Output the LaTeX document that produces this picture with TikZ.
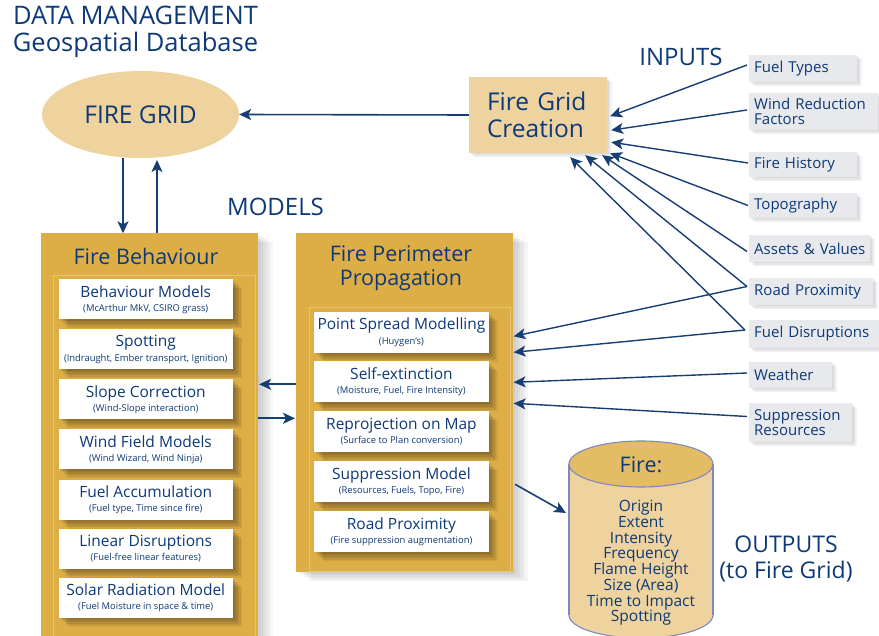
\documentclass[tikz,border=0pt]{standalone}
\usepackage{fontspec}
\setmainfont{Open Sans}
\usetikzlibrary{arrows.meta,calc,shapes.geometric}
\definecolor{navy}{HTML}{0D3977}
\definecolor{arrowc}{HTML}{173D75}
\definecolor{gold}{HTML}{DEAE46}
\definecolor{goldline}{HTML}{EAC46E}
\definecolor{sand}{HTML}{EFD39E}
\definecolor{sandtop}{HTML}{E4BC66}
\definecolor{cylline}{HTML}{7F88BB}
\definecolor{boxgray}{HTML}{E8E9EC}
\newcommand{\fsz}[2]{\fontsize{#1}{#2}\selectfont}
\tikzset{
  arr/.style={draw=arrowc, line width=1.6pt, -{Stealth[length=12pt,width=11pt,inset=3pt]}},
  inarr/.style={draw=arrowc, line width=1.4pt, -{Stealth[length=12pt,width=11pt,inset=3pt]}},
  bigshadow/.style={
    preaction={fill=black,opacity=0.035,transform canvas={shift={(2.5pt,-1.5pt)}}},
    preaction={fill=black,opacity=0.035,transform canvas={shift={(5pt,-3pt)}}},
    preaction={fill=black,opacity=0.035,transform canvas={shift={(7.5pt,-4.5pt)}}},
    preaction={fill=black,opacity=0.035,transform canvas={shift={(10pt,-6pt)}}},
    preaction={fill=black,opacity=0.035,transform canvas={shift={(12.5pt,-7.5pt)}}},
    preaction={fill=black,opacity=0.035,transform canvas={shift={(15pt,-9pt)}}}},
  boxshadow/.style={
    preaction={fill=black,opacity=0.065,transform canvas={shift={(1.5pt,-1.5pt)}}},
    preaction={fill=black,opacity=0.065,transform canvas={shift={(3pt,-3pt)}}},
    preaction={fill=black,opacity=0.065,transform canvas={shift={(4.5pt,-4.5pt)}}},
    preaction={fill=black,opacity=0.065,transform canvas={shift={(6pt,-6pt)}}},
    preaction={fill=black,opacity=0.065,transform canvas={shift={(7.5pt,-7.5pt)}}},
    preaction={fill=black,opacity=0.065,transform canvas={shift={(9pt,-9pt)}}}},
  smallshadow/.style={
    preaction={fill=black,opacity=0.05,transform canvas={shift={(1.5pt,-1.5pt)}}},
    preaction={fill=black,opacity=0.05,transform canvas={shift={(3pt,-3pt)}}},
    preaction={fill=black,opacity=0.05,transform canvas={shift={(4.5pt,-4.5pt)}}}},
  panel/.style={fill=gold, draw=none, anchor=north west, inner sep=0pt, bigshadow},
  ptitle/.style={text=navy, font=\fsz{21.5}{24}, align=center, inner sep=0pt},
  wbox/.style={fill=white, anchor=north west, minimum width=174.5pt, minimum height=40pt,
    inner sep=0pt, align=center, text=navy, font=\fsz{15.5}{14.5}, boxshadow},
  inbox/.style={anchor=west, fill=boxgray, text=navy, font=\fsz{15}{15.5}, align=left,
    inner xsep=5pt, inner ysep=0pt, text width=#1, smallshadow},
  heading/.style={text=navy, inner sep=0pt, align=center},
}
\newcommand{\sm}[1]{{\fsz{9.4}{14.5}#1}}
\begin{document}
\begin{tikzpicture}[x=1pt,y=-1pt]
\useasboundingbox (0,0) rectangle (879,636);
\clip (0,0) rectangle (879,636);

% headings
\node[heading, font=\fsz{25.5}{26.7}] (dm) at (135.5,32) {DATA MANAGEMENT\\Geospatial Database};
\node[heading, font=\fsz{24}{24}] (models) at (275.5,207) {MODELS};
\node[heading, font=\fsz{24}{25}] (inputs) at (681,57) {INPUTS};
\node[heading, font=\fsz{23}{25.5}] (outputs) at (786,559) {OUTPUTS\\(to Fire Grid)};

% fire grid
\node[ellipse, fill=sand, minimum width=197pt, minimum height=87pt, inner sep=0pt,
  text=navy, font=\fsz{24.5}{26}] (grid) at (140.5,114.5) {FIRE GRID};
\node[fill=sand, minimum height=76pt, inner xsep=18pt, inner ysep=0pt, text width=102pt,
  align=left, text=navy, font=\fsz{24.5}{27.3}, smallshadow] (fgc) at (538,115) {\mbox{Fire Grid}\\Creation};

% panels
\node[panel, minimum width=216.7pt, minimum height=420pt] (fb) at (41,233.3) {};
\node[panel, minimum width=216.7pt, minimum height=338.5pt] (fpp) at (296,233.3) {};
\draw[goldline, line width=0.8pt] (53.3,275) rectangle (255.7,660);
\draw[goldline, line width=0.8pt] (309.3,307.7) rectangle (510,571.8);
\node[ptitle] (fbt) at (146,256) {Fire Behaviour};
\node[ptitle] (fppt) at (401,268) {Fire Perimeter\\Propagation};

% fire behaviour boxes
\node[wbox] (fb1) at (58.3,279.3) {Behaviour Models\\\sm{(McArthur MkV, CSIRO grass)}};
\node[wbox] (fb2) at (58.3,329.3) {Spotting\\\sm{(Indraught, Ember transport, Ignition)}};
\node[wbox] (fb3) at (58.3,379.3) {Slope Correction\\\sm{(Wind-Slope interaction)}};
\node[wbox] (fb4) at (58.3,429.3) {Wind Field Models\\\sm{(Wind Wizard, Wind Ninja)}};
\node[wbox] (fb5) at (58.3,479.3) {Fuel Accumulation\\\sm{(Fuel type, Time since fire)}};
\node[wbox] (fb6) at (58.3,528.3) {Linear Disruptions\\\sm{(Fuel-free linear features)}};
\node[wbox] (fb7) at (58.3,577.3) {Solar Radiation Model\\\sm{(Fuel Moisture in space \& time)}};

% perimeter boxes
\node[wbox, minimum height=41pt] (fp1) at (314,311.5) {Point Spread Modelling\\\sm{(Huygen’s)}};
\node[wbox, minimum height=41pt] (fp2) at (314,361.2) {Self-extinction\\\sm{(Moisture, Fuel, Fire Intensity)}};
\node[wbox, minimum height=41pt] (fp3) at (314,411) {Reprojection on Map\\\sm{(Surface to Plan conversion)}};
\node[wbox, minimum height=41pt] (fp4) at (314,461) {Suppression Model\\\sm{(Resources, Fuels, Topo, Fire)}};
\node[wbox, minimum height=41pt] (fp5) at (314,511) {Road Proximity\\\sm{(Fire suppression augmentation)}};

% input boxes
\node[inbox=98pt, minimum height=27pt] (fuel) at (749,68.5) {\mbox{Fuel Types}};
\node[inbox=119pt, minimum height=37pt] (wind) at (749,111.5) {\mbox{Wind Reduction}\\Factors};
\node[inbox=98pt, minimum height=25pt] (hist) at (749,164.5) {\mbox{Fire History}};
\node[inbox=98pt, minimum height=25pt] (topo) at (749,205.5) {Topography};
\node[inbox=111pt, minimum height=27pt] (assets) at (749,248.5) {\mbox{Assets \& Values}};
\node[inbox=114pt, minimum height=27pt] (road) at (749,291.5) {\mbox{Road Proximity}};
\node[inbox=120pt, minimum height=28pt] (fdis) at (749,334) {\mbox{Fuel Disruptions}};
\node[inbox=73pt, minimum height=26pt] (weather) at (749,375) {Weather};
\node[inbox=93pt, minimum height=39pt] (supp) at (749,422.5) {Suppression\\Resources};

% cylinder
\fill[sand] (569,464) rectangle (713,615);
\fill[sand] (641,615) ellipse [x radius=72, y radius=23];
\draw[cylline, line width=1.1pt] (569,464) -- (569,615) (713,464) -- (713,615);
\begin{scope}
  \clip (560,615) rectangle (720,660);
  \draw[cylline, line width=1.1pt] (641,615) ellipse [x radius=72, y radius=23];
\end{scope}
\filldraw[fill=sandtop, draw=cylline, line width=1.1pt] (641,464) ellipse [x radius=72, y radius=23];
\node[text=navy, font=\fsz{21.5}{24}, inner sep=0pt] (firehead) at (641,465) {Fire:};
\node[text=navy, font=\fsz{15.5}{15.7}, align=center, inner sep=0pt] (firelist) at (641,563)
  {Origin\\Extent\\Intensity\\Frequency\\Flame Height\\Size (Area)\\Time to Impact\\Spotting};
\coordinate (cylw) at (566,513);

% connectors
\draw[arr] (fgc.west) -- (grid.east);
\draw[arr] (grid.south -| 123,0) -- ($(fb.north west)+(82,0)$);
\draw[arr] ($(fb.north west)+(116,0)$) -- (157,160);
\draw[arr] ($(fpp.north west)+(0,151)$) -- ($(fb.north east)+(1,151)$);
\draw[arr] ($(fb.north east)+(0,185)$) -- ($(fpp.north west)+(-1,185)$);
\draw[arr] ($(fpp.north east)+(2,251)$) -- (cylw);

\draw[inarr] ($(fuel.west)+(-2,-3.5)$) -- ($(fgc.south east)+(3,-37)$);
\draw[inarr] ($(wind.west)+(-2,-1.5)$) -- ($(fgc.south east)+(4,-23)$);
\draw[inarr] ($(hist.west)+(-1,-1.5)$) -- ($(fgc.south east)+(4,-11)$);
\draw[inarr] ($(topo.west)+(-1,0)$) -- ($(fgc.south east)+(3,0)$);
\draw[inarr] ($(assets.west)+(-2,3)$) -- ($(fgc.south east)+(-5,2)$);
\draw[inarr] ($(road.west)+(-2,-5)$) -- ($(fgc.south east)+(-22,2)$);
\draw[inarr] ($(fdis.west)+(-4,-4)$) -- ($(fgc.south east)+(-37,4)$);
\draw[inarr] ($(road.west)+(-2,-5)$) -- ($(fpp.north east)+(0.5,103)$);
\draw[inarr] ($(fdis.west)+(-4,-4)$) -- ($(fpp.north east)+(0.5,119)$);
\draw[inarr] ($(weather.west)+(-2,-2)$) -- ($(fpp.north east)+(0.5,149)$);
\draw[inarr] ($(supp.west)+(-2,-6)$) -- ($(fpp.north east)+(0.5,170)$);
\end{tikzpicture}
\end{document}
